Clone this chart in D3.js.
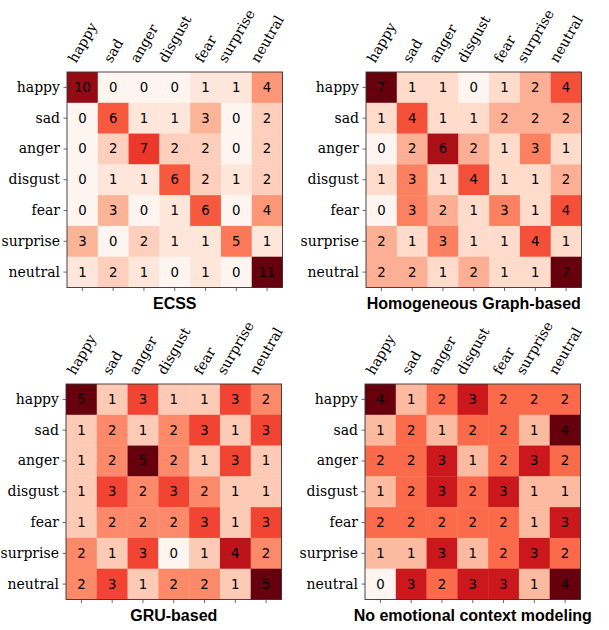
<!DOCTYPE html>
<html>
<head>
<meta charset="utf-8">
<script src="https://cdn.jsdelivr.net/npm/d3@7"></script>
<style>
  body { margin: 0; background: #fff; }
  svg { display: block; }
  .serif { font-family: "DejaVu Serif", "Liberation Serif", serif; }
</style>
</head>
<body>
<svg id="chart" width="609" height="630"></svg>
<script>
// Emotion classes (rows = true, cols = predicted)
const labels = ['happy', 'sad', 'anger', 'disgust', 'fear', 'surprise', 'neutral'];

const titles = ['ECSS', 'Homogeneous Graph-based', 'GRU-based', 'No emotional context modeling'];

const ecss = [
    [10, 0, 0, 0, 1, 1, 4],
    [0, 6, 1, 1, 3, 0, 2],
    [0, 2, 7, 2, 2, 0, 2],
    [0, 1, 1, 6, 2, 1, 2],
    [0, 3, 0, 1, 6, 0, 4],
    [3, 0, 2, 1, 1, 5, 1],
    [1, 2, 1, 0, 1, 0, 11]
];

const homogeneous = [
    [7, 1, 1, 0, 1, 2, 4],
    [1, 4, 1, 1, 2, 2, 2],
    [0, 2, 6, 2, 1, 3, 1],
    [1, 3, 1, 4, 1, 1, 2],
    [0, 3, 2, 1, 3, 1, 4],
    [2, 1, 3, 1, 1, 4, 1],
    [2, 2, 1, 2, 1, 1, 7]
];

const gru = [
    [5, 1, 3, 1, 1, 3, 2],
    [1, 2, 1, 2, 3, 1, 3],
    [1, 2, 5, 2, 1, 3, 1],
    [1, 3, 2, 3, 2, 1, 1],
    [1, 2, 2, 2, 3, 1, 3],
    [2, 1, 3, 0, 1, 4, 2],
    [2, 3, 1, 2, 2, 1, 5]
];

const noContext = [
    [4, 1, 2, 3, 2, 2, 2],
    [1, 2, 1, 2, 2, 1, 4],
    [2, 2, 3, 1, 2, 3, 2],
    [1, 2, 3, 2, 3, 1, 1],
    [2, 2, 2, 2, 2, 1, 3],
    [1, 1, 3, 1, 2, 3, 2],
    [0, 3, 2, 3, 3, 1, 4]
];

const matrices = [ecss, homogeneous, gru, noContext];

// matplotlib "Reds" control colours
const redsStops = ['#fff5f0', '#fee0d2', '#fcbba1', '#fc9272', '#fb6a4a',
                   '#ef3b2c', '#cb181d', '#a50f15', '#67000d'];

const svg = d3.select('#chart');
const size = 215.5;
const labelSize = 14;
const panels = [
    { x: 67, y: 72 },
    { x: 366, y: 72 },
    { x: 66, y: 384 },
    { x: 365, y: 384 }
];

matrices.forEach((m, i) => {
    const p = panels[i];
    const g = svg.append('g').attr('transform', `translate(${p.x},${p.y})`);

    const x = d3.scaleBand().domain(labels).range([0, size]);
    const y = d3.scaleBand().domain(labels).range([0, size]);

    const maxVal = d3.max(m.flat());
    const color = d3.scaleLinear()
        .domain(redsStops.map((_, k) => k / (redsStops.length - 1) * maxVal))
        .range(redsStops)
        .interpolate(d3.interpolateRgb);

    const cells = [];
    m.forEach((row, r) => row.forEach((v, c) => cells.push({ r, c, v })));

    g.selectAll('rect.cell')
        .data(cells)
        .enter()
        .append('rect')
        .attr('class', 'cell')
        .attr('x', d => x(labels[d.c]))
        .attr('y', d => y(labels[d.r]))
        .attr('width', x.bandwidth() + 0.3)
        .attr('height', y.bandwidth() + 0.3)
        .attr('fill', d => color(d.v));

    g.selectAll('text.val')
        .data(cells)
        .enter()
        .append('text')
        .attr('class', 'val')
        .attr('x', d => x(labels[d.c]) + x.bandwidth() / 2)
        .attr('y', d => y(labels[d.r]) + y.bandwidth() / 2)
        .attr('text-anchor', 'middle')
        .attr('dominant-baseline', 'central')
        .style('font-family', '"DejaVu Sans", sans-serif')
        .style('font-size', '13.3px')
        .attr('fill', '#000')
        .text(d => d.v);

    // frame
    g.append('rect')
        .attr('width', size)
        .attr('height', size)
        .attr('fill', 'none')
        .attr('stroke', '#333')
        .attr('stroke-width', 0.9);

    // left axis: ticks + serif labels
    const yAxis = d3.axisLeft(y).tickSize(3.5).tickPadding(3.5);
    const ya = g.append('g').call(yAxis).attr('font-family', null).attr('font-size', null);
    ya.select('.domain').remove();
    ya.selectAll('line').attr('stroke', '#444').attr('stroke-width', 0.8);
    ya.selectAll('text')
        .attr('class', 'serif')
        .style('font-size', labelSize + 'px')
        .attr('fill', '#000');

    // bottom ticks only
    const xAxis = d3.axisBottom(x).tickSize(3.5).tickFormat('');
    const xa = g.append('g').attr('transform', `translate(0,${size})`).call(xAxis);
    xa.select('.domain').remove();
    xa.selectAll('line').attr('stroke', '#444').attr('stroke-width', 0.8);

    // top labels rotated 60 degrees, bbox centred on the tick
    const sin60 = Math.sin(Math.PI / 3), cos60 = Math.cos(Math.PI / 3);
    labels.forEach(lbl => {
        const t = g.append('text')
            .attr('class', 'serif')
            .style('font-size', labelSize + 'px')
            .attr('fill', '#000')
            .attr('text-anchor', 'middle')
            .attr('dominant-baseline', 'central')
            .text(lbl);
        const w = t.node().getComputedTextLength();
        const h = labelSize * 0.95;
        const rotH = w * sin60 + h * cos60;
        const cx = x(lbl) + x.bandwidth() / 2;
        const cy = -7.5 - rotH / 2;
        t.attr('transform', `translate(${cx},${cy}) rotate(-60)`);
    });

    // title under the matrix
    g.append('text')
        .attr('x', size / 2)
        .attr('y', size + 21.5)
        .attr('text-anchor', 'middle')
        .style('font-family', '"Liberation Sans", Arial, sans-serif')
        .style('font-weight', 'bold')
        .style('font-size', '16px')
        .attr('fill', '#000')
        .text(titles[i]);
});
</script>
</body>
</html>
